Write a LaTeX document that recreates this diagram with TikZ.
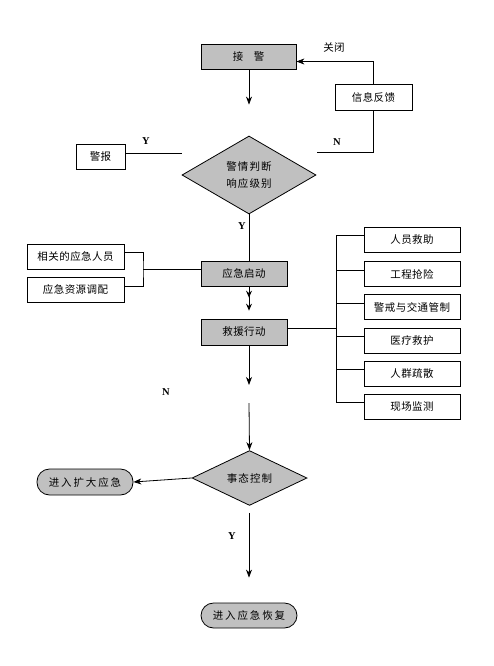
\documentclass[tikz,border=0pt]{standalone}
\usepackage{fontspec}
\setmainfont{Liberation Serif}
\newfontfamily\cjk[LetterSpace=4]{Noto Sans CJK SC}
\newfontfamily\cjkw[LetterSpace=18]{Noto Sans CJK SC}
\newfontfamily\cjks[LetterSpace=10]{Noto Sans CJK SC}
\usetikzlibrary{shapes.geometric,arrows.meta,calc}
\definecolor{boxgray}{RGB}{192,192,192}
\begin{document}
\begin{tikzpicture}[x=1pt,y=-1pt,
  font=\cjk\fontsize{10.5}{12}\selectfont,
  line width=0.8pt,
  box/.style={draw,inner sep=0pt,minimum width=#1},
  box/.default=96,
  gbox/.style={box=#1,fill=boxgray},
  gbox/.default=86,
  dia/.style={draw,diamond,fill=boxgray,inner sep=0pt},
  pill/.style={draw,fill=boxgray,rounded corners=12.5pt,inner sep=0pt,minimum width=96,minimum height=26},
  arr/.style={-{Stealth[length=8pt,width=6pt,inset=2.5pt]}},
  yn/.style={font=\bfseries\fontsize{10.5}{12}\selectfont}]
\useasboundingbox (0,0) rectangle (493,666);
\fill[white] (0,0) rectangle (493,666);
\coordinate (spine) at (249,0);

% nodes
\node[gbox=95,minimum height=25] (jj) at (248.5,56.5) {接\hspace{1em}警};
\node[box=77,minimum height=26] (xx) at (373.5,97) {信息反馈};
\node[box=49,minimum height=25] (jb) at (100.5,156.5) {警报};
\node[dia,minimum width=134,minimum height=78,align=center,font=\cjks\fontsize{10.5}{17}\selectfont] (pd) at (249,175) {警情判断\\响应级别};
\node[gbox=86,minimum height=25] (qd) at (244,273.5) {应急启动};
\node[gbox=86,minimum height=26] (jy) at (244,332) {救援行动};
\node[box=97,minimum height=25] (ry) at (75.5,257) {相关的应急人员};
\node[box=97,minimum height=25] (zy) at (75.5,290) {应急资源调配};
\node[box=96,minimum height=25] (b1) at (412,239.5) {人员救助};
\node[box=96,minimum height=25] (b2) at (412,274) {工程抢险};
\node[box=96,minimum height=25] (b3) at (412,307) {警戒与交通管制};
\node[box=96,minimum height=25] (b4) at (412,340.5) {医疗救护};
\node[box=96,minimum height=25] (b5) at (412,373.5) {人群疏散};
\node[box=96,minimum height=25] (b6) at (412,406.5) {现场监测};
\node[dia,minimum width=115,minimum height=50,font=\cjks\fontsize{10.5}{12}\selectfont] (sk) at (249.5,478) {事态控制};
\node[pill,font=\cjkw\fontsize{10.5}{12}\selectfont] (kd) at (85,482) {进入扩大应急};
\node[pill,minimum height=25,font=\cjkw\fontsize{10.5}{12}\selectfont] (hf) at (249,615.5) {进入应急恢复};

% labels
\node (gb) at (334,48) {关闭};
\node[yn] (n1l) at (337,142) {N};
\node[yn] (y1l) at (146,141) {Y};
\node[yn] (y2l) at (242,226) {Y};
\node[yn] (n2l) at (166,392) {N};
\node[yn] (y3l) at (232,536) {Y};

% connectors
\draw[arr,shorten >=31pt] (jj.south -| spine) -- (pd.north);
\draw[arr] (xx.north) |- ($(jj.east)+(0,5)$);
\coordinate (nend) at (317,152);
\draw (xx.south) |- (nend);
\coordinate (yend) at (182,153);
\draw (yend -| jb.east) -- (yend);
\draw (pd.south) -- (qd.north -| spine);
\draw[-{Stealth[length=7pt,width=6pt,inset=2.5pt,sep=6pt]Stealth[length=7pt,width=6pt,inset=2.5pt]},shorten >=8pt] (qd.south -| spine) -- (jy.north -| spine);
% bracket on the left
\coordinate (bx) at (143,269);
\draw ($(ry.east)+(0,-5)$) -| (bx) |- ($(zy.east)+(0,-4)$);
\draw (bx) -- (bx -| qd.west);
% bus on the right
\coordinate (bus) at (336,0);
\draw ($(b1.west)+(0,-4)$) -| ($(b6.west -| bus)+(0,-4)$) -- ($(b6.west)+(0,-4)$);
\foreach \b in {b2,b3,b4,b5}{
  \draw ($(\b.west)+(0,-4)$) -- ($(\b.west -| bus)+(0,-4)$);
}
\draw ($(jy.east)+(0,-4)$) -- ($(jy.east -| bus)+(0,-4)$);
% down from rescue to control
\coordinate (a1) at (249,385);
\coordinate (a2) at (249,403);
\draw[arr] (jy.south -| spine) -- (a1);
\draw[arr] (a2) -- (sk.north);
\draw[arr] (sk.west) -- (kd.east);
\draw[arr,shorten <=7pt,shorten >=25pt] (sk.south -| spine) -- (hf.north);
\end{tikzpicture}
\end{document}
